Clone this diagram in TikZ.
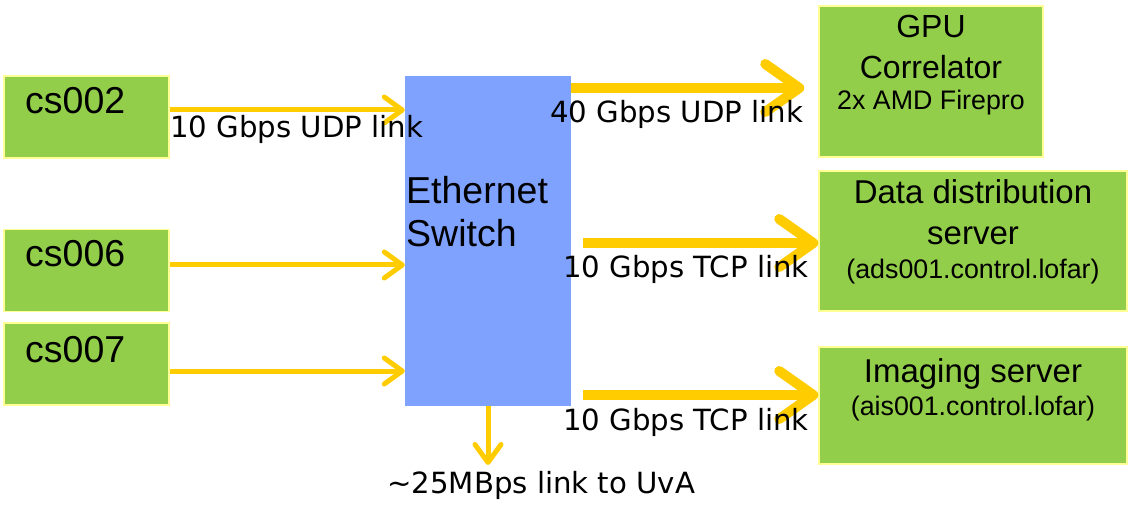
\documentclass[tikz,border=0pt]{standalone}
\usepackage{fontspec}
\setmainfont{Liberation Sans}
\newfontfamily\linkfont{DejaVu Sans}
\usetikzlibrary{arrows.meta}
\definecolor{boxgreen}{RGB}{146,206,74}
\definecolor{boxrim}{RGB}{255,255,150}
\definecolor{switchblue}{RGB}{128,162,255}
\definecolor{linkyellow}{RGB}{255,204,0}

\begin{document}
\begin{tikzpicture}[x=1pt,y=-1pt]
    \tikzstyle{station}=[rectangle,draw=boxrim,fill=boxgreen,line width=1.5pt,inner sep=0pt]
    \tikzstyle{big}=[inner sep=0pt,anchor=base,font=\fontsize{33}{40}\selectfont]
    \tikzstyle{small}=[inner sep=0pt,anchor=base,font=\fontsize{26.8}{32}\selectfont]
    \tikzstyle{linklabel}=[inner sep=0pt,anchor=base west,font=\linkfont\fontsize{29.2}{34}\selectfont]
    \tikzstyle{thinlink}=[draw=linkyellow,line width=5pt,-{Straight Barb[length=18pt,width=26pt,round]}]
    \tikzstyle{fatlink}=[draw=linkyellow,line width=10pt,-{Straight Barb[length=34pt,width=48pt,round]}]
    \useasboundingbox (0,0) rectangle (1128,513);

    % stations on the left
    \foreach \name/\y/\base in {cs002/117/114, cs006/270.5/267, cs007/364/362}
    {
        \node[station,minimum width=165pt,minimum height=82pt] (\name) at (86.5,\y) {};
        \node[big,anchor=base west,font=\fontsize{37.5}{42}\selectfont] (\name-label) at (25,\base) {\name};
    }

    \node[rectangle,fill=switchblue,minimum width=166pt,minimum height=330pt,inner sep=0pt] (switch) at (488,241) {};
    \node[big,anchor=base west,font=\fontsize{37.5}{42}\selectfont] (switch-1) at (406,204) {Ethernet};
    \node[big,anchor=base west,font=\fontsize{37.5}{42}\selectfont] (switch-2) at (406,247) {Switch};

    % receivers on the right
    \node[station,minimum width=224pt,minimum height=151pt] (gpu) at (931,81.5) {};
    \node[big,font=\fontsize{32}{40}\selectfont] (gpu-1) at (931,38) {GPU};
    \node[big,font=\fontsize{32}{40}\selectfont] (gpu-2) at (931,79) {Correlator};
    \node[small] (gpu-3) at (931,110) {2x AMD Firepro};

    \node[station,minimum width=308pt,minimum height=140pt] (dist) at (973,241) {};
    \node[big] (dist-1) at (973,204) {Data distribution};
    \node[big] (dist-2) at (973,245) {server};
    \node[small] (dist-3) at (973,279) {(ads001.control.lofar)};

    \node[station,minimum width=308pt,minimum height=117pt] (imaging) at (973,405.5) {};
    \node[big] (imaging-1) at (973,382) {Imaging server};
    \node[small] (imaging-2) at (973,415) {(ais001.control.lofar)};

    % links
    \draw[thinlink] ([yshift=7pt]cs002.east) -- ([yshift=7pt]cs002.east -| switch.west);
    \draw[thinlink] ([yshift=5.5pt]cs006.east) -- ([yshift=5.5pt]cs006.east -| switch.west);
    \draw[thinlink] ([yshift=-7pt]cs007.east) -- ([yshift=-7pt]cs007.east -| switch.west);
    \draw[fatlink] ([yshift=-6.5pt]gpu.west -| switch.east) -- ([xshift=-14pt,yshift=-6.5pt]gpu.west);
    \draw[fatlink] ([xshift=12pt,yshift=-2pt]dist.west -| switch.east) -- ([yshift=-2pt]dist.west);
    \draw[fatlink] ([xshift=12pt,yshift=10.5pt]imaging.west -| switch.east) -- ([yshift=10.5pt]imaging.west);
    \coordinate (uva) at (488,465);
    \draw[thinlink] (switch.south) -- (uva);

    \node[linklabel] (udp-in) at (170,138) {10 Gbps UDP link};
    \node[linklabel] (udp-out) at (550,123) {40 Gbps UDP link};
    \node[linklabel] (tcp-dist) at (563,278) {10 Gbps TCP link};
    \node[linklabel] (tcp-imaging) at (563,430) {10 Gbps TCP link};
    \node[linklabel] (uva-label) at (387,493) {\textasciitilde25MBps link to UvA};
\end{tikzpicture}
\end{document}
